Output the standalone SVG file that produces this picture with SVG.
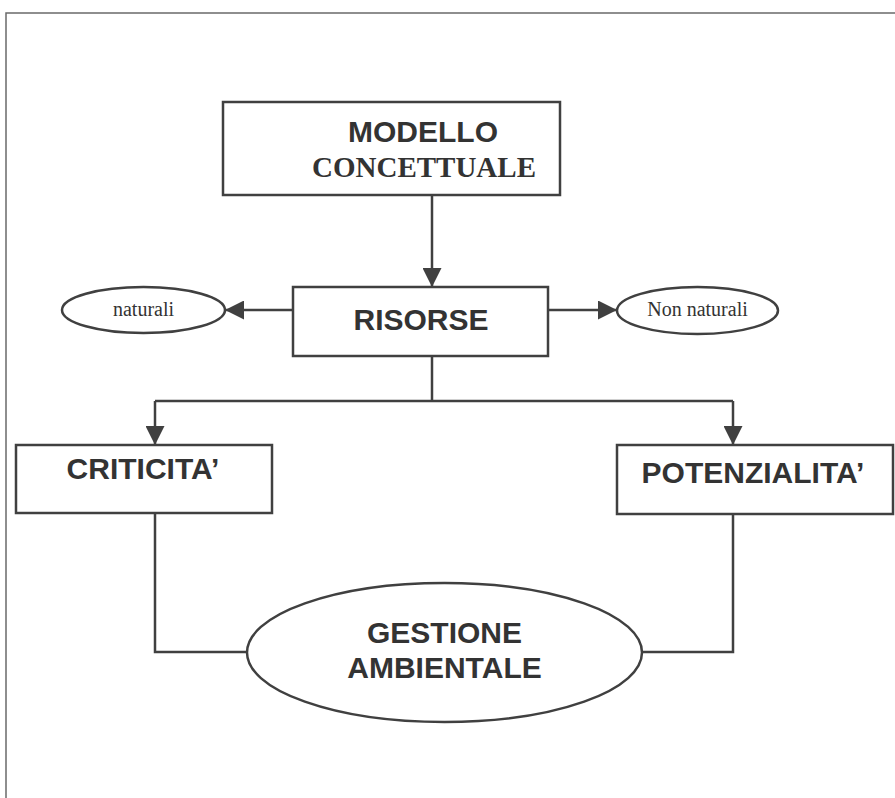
<svg xmlns="http://www.w3.org/2000/svg" width="895" height="798" viewBox="0 0 895 798">
  <style>
    .box { fill: #ffffff; stroke: #404040; stroke-width: 2.5; }
    .wire { fill: none; stroke: #404040; stroke-width: 2.5; }
    .frame { fill: none; stroke: #6a6a6a; stroke-width: 1.5; }
    .sans { font-family: "Liberation Sans", Arial, sans-serif; font-weight: bold; font-size: 30px; fill: #333333; text-anchor: middle; }
    .serifb { font-family: "Liberation Serif", "Times New Roman", serif; font-weight: bold; font-size: 29px; fill: #333333; text-anchor: middle; }
    .serif { font-family: "Liberation Serif", "Times New Roman", serif; font-size: 20px; fill: #333333; text-anchor: middle; }
  </style>
  <defs>
    <marker id="arrow" viewBox="0 0 20 20" refX="20" refY="10" markerWidth="20" markerHeight="19" markerUnits="userSpaceOnUse" orient="auto">
      <path d="M0,0 L20,10 L0,20 z" fill="#404040"/>
    </marker>
  </defs>

  <rect width="895" height="798" fill="#ffffff"/>

  <!-- page frame -->
  <path class="frame" d="M6,798 V13 H895"/>

  <!-- connectors -->
  <g id="connectors">
    <path class="wire" d="M432,195 V287" marker-end="url(#arrow)"/>
    <path class="wire" d="M293,310 H225" marker-end="url(#arrow)"/>
    <path class="wire" d="M548,310 H617" marker-end="url(#arrow)"/>
    <path class="wire" d="M432,356 V401"/>
    <path class="wire" d="M155,401 H733"/>
    <path class="wire" d="M155,401 V445" marker-end="url(#arrow)"/>
    <path class="wire" d="M733,401 V445" marker-end="url(#arrow)"/>
    <path class="wire" d="M155,513 V652 H247"/>
    <path class="wire" d="M733,514 V652 H642"/>
  </g>

  <g id="modello-concettuale">
    <rect class="box" x="223" y="102" width="337" height="93"/>
    <text class="sans" x="423" y="142">MODELLO</text>
    <text class="serifb" x="424" y="177">CONCETTUALE</text>
  </g>

  <g id="risorse">
    <rect class="box" x="293" y="287" width="255" height="69"/>
    <text class="sans" x="421" y="330">RISORSE</text>
  </g>

  <g id="naturali">
    <ellipse class="box" cx="143.5" cy="310" rx="81.5" ry="23"/>
    <text class="serif" x="143.5" y="316">naturali</text>
  </g>

  <g id="non-naturali">
    <ellipse class="box" cx="697.5" cy="310.5" rx="80.5" ry="23.5"/>
    <text class="serif" x="697.5" y="316">Non naturali</text>
  </g>

  <g id="criticita">
    <rect class="box" x="16" y="445" width="256" height="68"/>
    <text class="sans" x="143" y="479">CRITICITA’</text>
  </g>

  <g id="potenzialita">
    <rect class="box" x="617" y="445" width="276" height="69"/>
    <text class="sans" x="753" y="483">POTENZIALITA’</text>
  </g>

  <g id="gestione-ambientale">
    <ellipse class="box" cx="444.5" cy="652.5" rx="197.5" ry="69.5"/>
    <text class="sans" x="444.5" y="643">GESTIONE</text>
    <text class="sans" x="444.5" y="678">AMBIENTALE</text>
  </g>
</svg>
